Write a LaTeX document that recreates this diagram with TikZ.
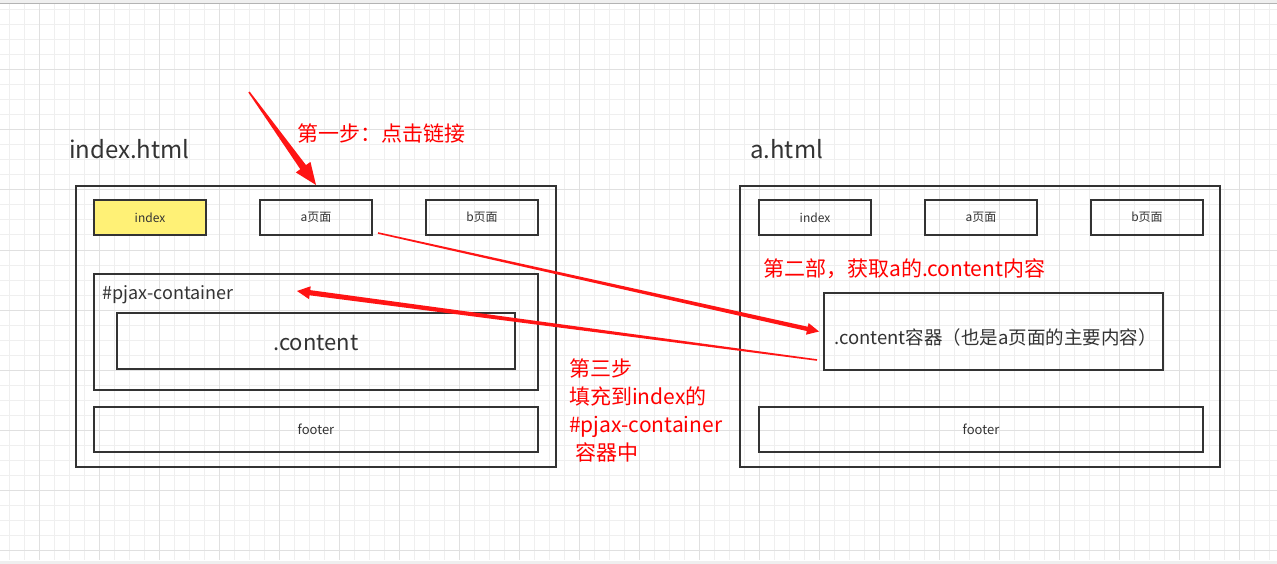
\documentclass[tikz,border=0pt]{standalone}
\usepackage{fontspec}
\setmainfont{Noto Sans CJK SC}
\usetikzlibrary{calc}
\definecolor{ink}{HTML}{333333}
\definecolor{stepred}{RGB}{255,20,20}
\definecolor{tabyellow}{HTML}{FFF176}
\definecolor{gridminor}{HTML}{EFEFEF}
\definecolor{gridmajor}{HTML}{E0E0E0}
% tapered arrow: from, to, half shaft width, head length, head half width
\newcommand\taper[5]{%
  \path (#2) coordinate (tp) ($(#2)!#4!(#1)$) coordinate (hb) (#1) coordinate (st);
  \fill[stepred] ($(st)!0.8pt!90:(tp)$) -- ($(hb)!#3!-90:(st)$) -- ($(hb)!#5!-90:(st)$) -- (tp)
    -- ($(hb)!#5!90:(st)$) -- ($(hb)!#3!90:(st)$) -- ($(st)!0.8pt!-90:(tp)$) -- cycle;}
\begin{document}
\begin{tikzpicture}[x=1pt, y=-1pt,
page/.style={rectangle, draw=ink, line width=2pt, inner sep=0pt, minimum width=480pt, minimum height=281pt},
tab/.style={rectangle, draw=ink, line width=2pt, inner sep=0pt, minimum width=112pt, minimum height=35pt, text=ink, font=\fontsize{12}{14}\selectfont},
wide/.style={rectangle, draw=ink, line width=2pt, inner sep=0pt, minimum width=444pt, text=ink},
title/.style={anchor=base west, inner sep=0pt, text=ink, font=\fontsize{24}{29}\selectfont},
note/.style={anchor=west, inner sep=0pt, text=red, font=\fontsize{21}{25}\selectfont},
]
\useasboundingbox (0,0) rectangle (1277,564);
\fill[white] (0,0) rectangle (1277,564);
% grid
\foreach \x in {9,24,...,1277} \draw[gridminor, line width=1pt] (\x,3.5) -- (\x,560);
\foreach \y in {10,25,...,560} \draw[gridminor, line width=1pt] (0,\y) -- (1277,\y);
\foreach \x in {39,99,...,1277} \draw[gridmajor, line width=1pt] (\x,3.5) -- (\x,560);
\foreach \y in {70,130,...,560} \draw[gridmajor, line width=1pt] (0,\y) -- (1277,\y);
\fill[gridminor] (0,0) rectangle (1277,3);
\draw[gridmajor!80!black, line width=1pt] (0,3.5) -- (1277,3.5);
\fill[gridminor] (0,561) rectangle (1277,564);

% index.html
\node[title] (ltitle) at (69,159) {index.html};
\node[page] (lpage) at (316,326.5) {};
\node[tab, fill=tabyellow] (lindex) at (150,217.5) {index};
\node[tab] (la) at (316,217.5) {a页面};
\node[tab] (lb) at (482,217.5) {b页面};
\node[wide, minimum height=116pt] (lpjax) at (316,332) {};
\node[anchor=west, inner sep=0pt, text=ink, font=\fontsize{18}{21}\selectfont] (plabel) at (102,295) {\#pjax-container};
\node[rectangle, draw=ink, line width=2pt, inner sep=0pt, minimum width=398pt, minimum height=56pt] (lcontent) at (316,341) {};
\node[anchor=base, inner sep=0pt, text=ink, font=\fontsize{22}{26}\selectfont] (lclabel) at ($(lcontent.center)+(0,9)$) {.content};
\node[wide, minimum height=45pt, font=\fontsize{13}{15}\selectfont] (lfooter) at (316,429.5) {footer};

% a.html
\node[title] (rtitle) at (750,159) {a.html};
\node[page] (rpage) at (980,326.5) {};
\node[tab] (rindex) at (815,217.5) {index};
\node[tab] (ra) at (981,217.5) {a页面};
\node[tab] (rb) at (1147,217.5) {b页面};
\node[rectangle, draw=ink, line width=2pt, inner sep=0pt, minimum width=339pt, minimum height=77pt] (rc) at (993.5,331.5) {};
\node[anchor=base, inner sep=0pt, text=ink, font=\fontsize{18.5}{22}\selectfont] (rclabel) at ($(rc.center)+(2,13)$) {.content容器（也是a页面的主要内容）};
\node[wide, minimum height=45pt, font=\fontsize{13}{15}\selectfont] (rfooter) at (981,429.5) {footer};

% steps
\node[note] (step1) at (297,133) {第一步：点击链接};
\node[note] (step2) at (763,269) {第二部，获取a的.content内容};
\node[anchor=north west, inner sep=0pt, align=left, text=red, font=\fontsize{21}{28}\selectfont] (step3) at (569,359)
  {第三步\\填充到index的\\\#pjax-container\\\hspace{6pt}容器中};

% arrows
\coordinate (s1) at (249,92);
\coordinate (sa) at ($(la.south east)+(5,-3)$);
\coordinate (ta) at ($(rc.west)+(-4,0)$);
\coordinate (sb) at ($(rc.south west)+(-6,-11)$);
\coordinate (tb) at ($(lpjax.north west)+(204,18)$);
\taper{s1}{lpage.north}{3.5pt}{22pt}{9pt}
\taper{sa}{ta}{2.2pt}{12pt}{6pt}
\taper{sb}{tb}{2.6pt}{13pt}{6.5pt}
\end{tikzpicture}
\end{document}
